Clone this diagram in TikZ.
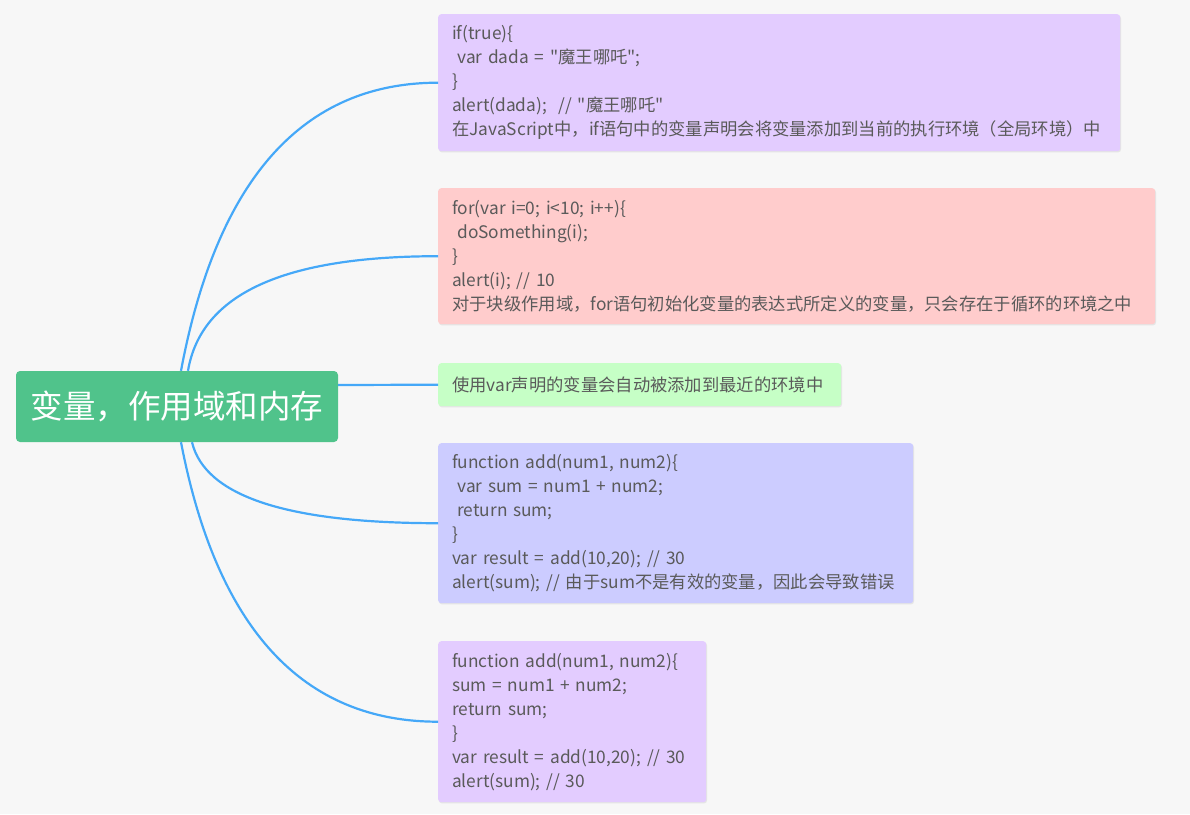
\documentclass[tikz,border=0pt]{standalone}
\usepackage{fontspec}
\setmainfont{Noto Sans CJK SC}
\usetikzlibrary{shadows}

\definecolor{bgcol}{HTML}{F7F7F7}
\definecolor{topicgreen}{HTML}{50C38B}
\definecolor{linkblue}{HTML}{45A8F8}
\definecolor{notegray}{HTML}{5A5A5A}
\definecolor{colP}{HTML}{E3CCFF}
\definecolor{colR}{HTML}{FFCCCC}
\definecolor{colG}{HTML}{C6FFC6}
\definecolor{colB}{HTML}{CCCCFF}

% straight double quote
\newcommand{\dq}{\textquotedbl}

\begin{document}
\begin{tikzpicture}[x=1pt, y=-1pt,
    maintopic/.style={fill=topicgreen, text=white, rounded corners=4pt,
      minimum width=322pt, minimum height=71pt, inner sep=0pt,
      font=\fontsize{32.5}{36}\selectfont},
    subtopic/.style={anchor=north west, rounded corners=3pt, align=left,
      inner xsep=14pt, inner ysep=0pt, text=notegray,
      font=\fontsize{17.3}{24}\selectfont,
      drop shadow={shadow xshift=0.8pt, shadow yshift=-1.2pt, opacity=0.15}},
    branch/.style={draw=linkblue, line width=2.2pt}]

  \useasboundingbox[fill=bgcol] (0,0) rectangle (1190,814);

  % central topic
  \node[maintopic] (root) at (177,406.5) {变量，作用域和内存};

  % sub topics
  \node[subtopic, fill=colP, minimum width=682pt, minimum height=137pt,
        text width=654pt] (ifblock) at (438,14)
    {if(true)\{\\
     \hspace*{0.3em}var dada = \dq 魔王哪吒\dq;\\
     \}\\
     alert(dada);\ \ // \dq 魔王哪吒\dq\\
     在JavaScript中，if语句中的变量声明会将变量添加到当前的执行环境（全局环境）中};

  \node[subtopic, fill=colR, minimum width=717pt, minimum height=136pt,
        text width=689pt] (forblock) at (438,188)
    {for(var i=0; i<10; i++)\{\\
     \hspace*{0.3em}doSomething(i);\\
     \}\\
     alert(i); // 10\\
     对于块级作用域，for语句初始化变量的表达式所定义的变量，只会存在于循环的环境之中};

  \node[subtopic, fill=colG, minimum width=403pt, minimum height=43pt,
        text width=375pt] (varnote) at (438,363)
    {使用var声明的变量会自动被添加到最近的环境中};

  \node[subtopic, fill=colB, minimum width=475pt, minimum height=160pt,
        text width=447pt] (localsum) at (438,443)
    {function add(num1, num2)\{\\
     \hspace*{0.3em}var sum = num1 + num2;\\
     \hspace*{0.3em}return sum;\\
     \}\\
     var result = add(10,20); // 30\\
     alert(sum); // 由于sum不是有效的变量，因此会导致错误};

  \node[subtopic, fill=colP, minimum width=268pt, minimum height=161pt,
        text width=240pt] (globalsum) at (438,641)
    {function add(num1, num2)\{\\
     sum = num1 + num2;\\
     return sum;\\
     \}\\
     var result = add(10,20); // 30\\
     alert(sum); // 30};

  % branches
  \draw[branch] ([xshift=4pt]root.north) .. controls +(36,-192) and +(-135,0) .. (ifblock.west);
  \draw[branch] ([xshift=11pt]root.north) .. controls +(13,-77) and +(-154,0) .. (forblock.west);
  \draw[branch] ([yshift=21.5pt]root.east) .. controls +(50,0) and +(-50,0) .. (varnote.west);
  \draw[branch] ([xshift=15pt]root.south) .. controls +(13,54) and +(-151,0) .. (localsum.west);
  \draw[branch] ([xshift=4pt]root.south) .. controls +(36,187) and +(-135,0) .. (globalsum.west);
\end{tikzpicture}
\end{document}
